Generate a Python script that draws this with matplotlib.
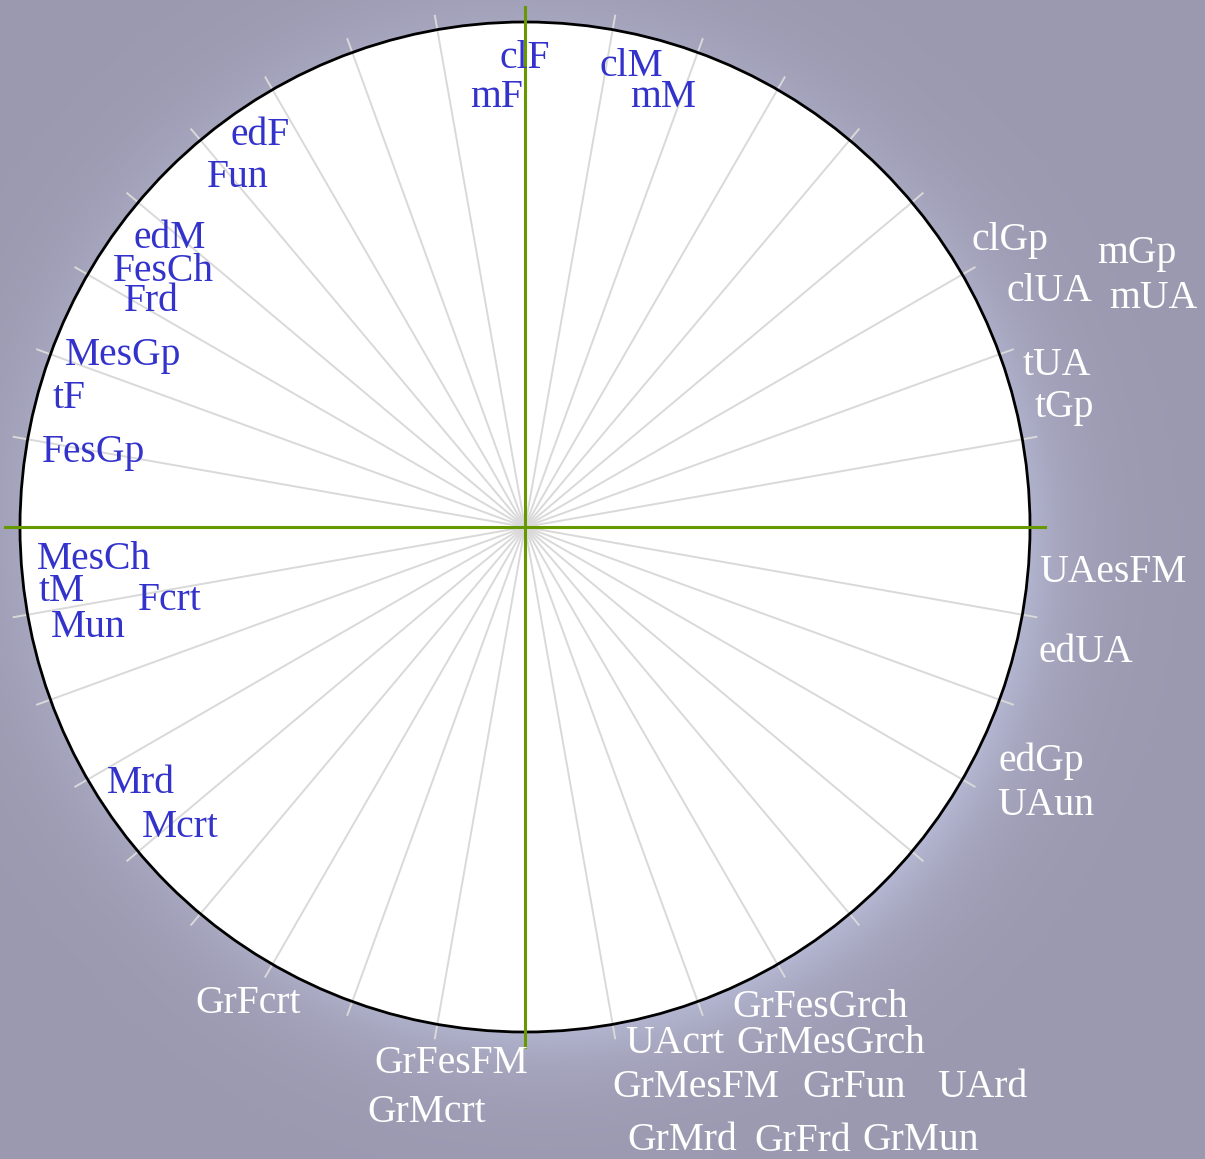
import numpy as np
import matplotlib
matplotlib.use("Agg")
import matplotlib.pyplot as plt
from matplotlib.patches import Circle

# ---- data ----
spoke_angles_deg = list(range(0, 360, 10))

inner_labels = ["clF", "mF", "clM", "mM", "edF", "Fun", "edM", "FesCh", "Frd",
                "MesGp", "tF", "FesGp", "MesCh", "tM", "Fcrt", "Mun", "Mrd", "Mcrt"]
inner_x = [-0.050, -0.109, 0.147, 0.208, -0.584, -0.630, -0.776, -0.816, -0.794,
           -0.911, -0.935, -0.956, -0.966, -0.964, -0.766, -0.939, -0.828, -0.758]
inner_y = [0.909, 0.832, 0.893, 0.832, 0.756, 0.673, 0.552, 0.487, 0.428,
           0.321, 0.236, 0.129, -0.083, -0.147, -0.164, -0.218, -0.527, -0.614]

outer_labels = ["clGp", "mGp", "clUA", "mUA", "tUA", "tGp", "UAesFM", "edUA",
                "edGp", "UAun", "GrFesGrch", "UAcrt", "GrMesGrch", "GrMesFM",
                "GrFun", "UArd", "GrMrd", "GrFrd", "GrMun", "GrFesFM", "GrMcrt",
                "GrFcrt"]
outer_x = [0.885, 1.133, 0.954, 1.156, 0.986, 1.010, 1.018, 1.016,
           0.937, 0.935, 0.410, 0.198, 0.418, 0.174,
           0.549, 0.816, 0.202, 0.455, 0.669, -0.299, -0.313,
           -0.653]
outer_y = [0.549, 0.523, 0.448, 0.434, 0.301, 0.218, -0.109, -0.267,
           -0.483, -0.570, -0.970, -1.042, -1.042, -1.129,
           -1.129, -1.129, -1.234, -1.236, -1.234, -1.081, -1.178,
           -0.962]

# ---- figure ----
W, H, DPI = 1205, 1159, 100
cx, cy, R = 525.0, 527.0, 505.0
fig = plt.figure(figsize=(W / DPI, H / DPI), dpi=DPI)
ax = fig.add_axes([0, 0, 1, 1])
x0, x1 = -cx / R, (W - cx) / R
y0, y1 = -(H - cy) / R, cy / R
ax.set_xlim(x0, x1)
ax.set_ylim(y0, y1)
ax.set_aspect("equal")
ax.axis("off")

# background: grey-lilac with a soft bluish glow around the disc
gx = np.linspace(x0, x1, 600)
gy = np.linspace(y1, y0, 580)
GX, GY = np.meshgrid(gx, gy)
rr = np.hypot(GX, GY)
th = np.arctan2(GY, GX)
base = np.array([155, 153, 176]) / 255.0
glowc = np.array([200, 206, 236]) / 255.0
strength = 0.25 + 0.35 * np.clip(np.cos(th - np.deg2rad(-45)), 0, None)
g = (np.exp(-np.clip(rr - 1.0, 0, None) / 0.09) * strength)[..., None]
img = base * (1 - g) + glowc * g
ax.imshow(img, extent=(x0, x1, y0, y1), zorder=0, interpolation="bilinear")

# white disc
ax.add_patch(Circle((0, 0), 1.0, facecolor="white", edgecolor="none", zorder=1))

# spokes
rt = 1.03
for a in spoke_angles_deg:
    t = np.deg2rad(a)
    ax.plot([0, rt * np.cos(t)], [0, rt * np.sin(t)], color="#d9d9d9",
            lw=1.4, zorder=2, solid_capstyle="butt")

# outline
ax.add_patch(Circle((0, 0), 1.0, facecolor="none", edgecolor="black", lw=2.0, zorder=3))

# green axes
ax.plot([-rt, rt], [0, 0], color="#669900", lw=2.2, zorder=4)
ax.plot([0, 0], [-rt, rt], color="#669900", lw=2.2, zorder=4)

font = dict(family=["Liberation Serif", "DejaVu Serif"], fontsize=28.5)
for s, x, y in zip(inner_labels, inner_x, inner_y):
    ax.text(x, y, s, color="#3333cc", ha="left", va="baseline", zorder=5, **font)
for s, x, y in zip(outer_labels, outer_x, outer_y):
    ax.text(x, y, s, color="white", ha="left", va="baseline", zorder=5, **font)

fig.savefig("out.png", dpi=DPI)
